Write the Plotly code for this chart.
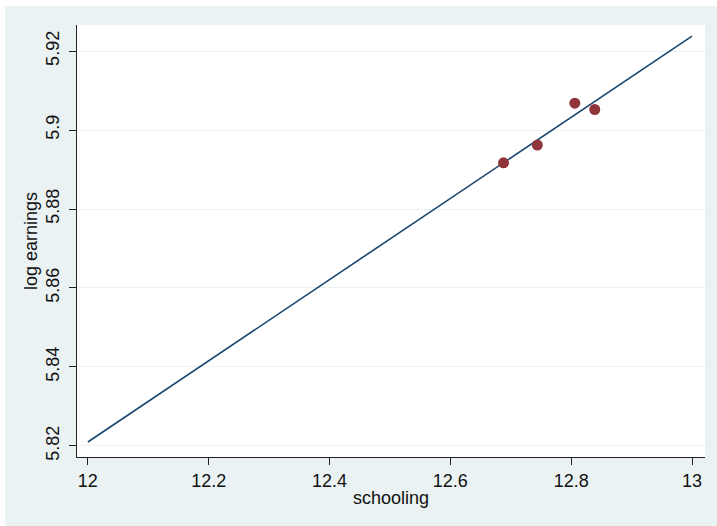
import plotly.graph_objects as go

# data
schooling = [12.688, 12.744, 12.806, 12.839]
log_earnings = [5.8917, 5.8962, 5.9068, 5.9052]
fit_x = [12.0, 13.0]
fit_y = [5.8210, 5.9238]
x_ticks = [12, 12.2, 12.4, 12.6, 12.8, 13]
x_tick_labels = ["12", "12.2", "12.4", "12.6", "12.8", "13"]
y_ticks = [5.82, 5.84, 5.86, 5.88, 5.90, 5.92]
y_tick_labels = ["5.82", "5.84", "5.86", "5.88", "5.9", "5.92"]

BG = "#EAF2F3"
FONT = "Liberation Sans, Arial, sans-serif"

fig = go.Figure()
fig.add_trace(go.Scatter(x=fit_x, y=fit_y, mode="lines",
                         line=dict(color="#1a476f", width=1.6),
                         hoverinfo="skip", showlegend=False))
fig.add_trace(go.Scatter(x=schooling, y=log_earnings, mode="markers",
                         marker=dict(color="#90353b", size=11,
                                     line=dict(width=0)),
                         showlegend=False))

L, R, T, B = 77, 12, 25, 69
W, H = 717, 526
pw, ph = W - L - R, H - T - B

# white strips at top and left of the outer region
fig.add_shape(type="rect", xref="paper", yref="paper", layer="below",
              x0=-L / pw - 0.01, x1=(W - L) / pw + 0.01,
              y0=(H - B - 6) / ph, y1=(H - B) / ph + 0.01,
              fillcolor="white", line=dict(width=0))
fig.add_shape(type="rect", xref="paper", yref="paper", layer="below",
              x0=-L / pw - 0.01, x1=(5 - L) / pw,
              y0=-B / ph - 0.01, y1=(H - B) / ph + 0.01,
              fillcolor="white", line=dict(width=0))

fig.update_layout(
    width=W, height=H,
    margin=dict(l=L, r=R, t=T, b=B, pad=0),
    paper_bgcolor=BG, plot_bgcolor="white",
    font=dict(family=FONT, size=18, color="#111111"),
    xaxis=dict(range=[11.982, 13.0215], tickvals=x_ticks, ticktext=x_tick_labels,
               showgrid=False, zeroline=False, showline=True, linecolor="#222222",
               linewidth=1.3, ticks="outside", ticklen=7, tickcolor="#222222",
               tickfont=dict(size=18),
               title=dict(text="schooling", font=dict(size=18), standoff=1)),
    yaxis=dict(range=[5.8172, 5.9266], tickvals=y_ticks, ticktext=y_tick_labels,
               showgrid=True, gridcolor=BG, gridwidth=1.3, zeroline=False,
               showline=True, linecolor="#222222", linewidth=1.3,
               ticks="outside", ticklen=7, tickcolor="#222222",
               tickangle=-90, tickfont=dict(size=18), ticklabelstandoff=3,
               title=dict(text="log earnings", font=dict(size=18), standoff=0)),
)

fig.write_html("out.html", config={"displayModeBar": False},
               post_script="document.body.style.margin='0';document.body.style.overflow='hidden';")
